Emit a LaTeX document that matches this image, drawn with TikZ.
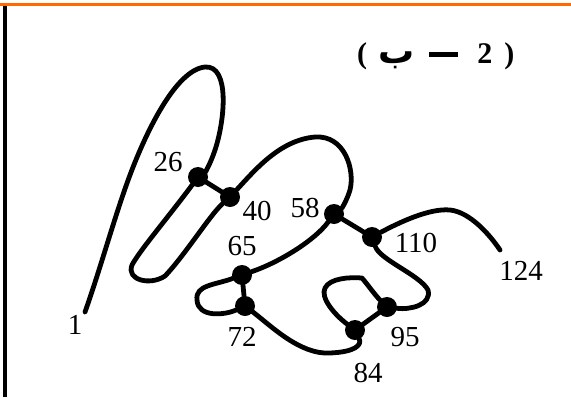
\documentclass[tikz,border=0pt]{standalone}
\usepackage{fontspec}
\setmainfont{Liberation Serif}
\newfontfamily\arabicfont[Script=Arabic]{DejaVu Sans}
\TeXXeTstate=1
\definecolor{rulebar}{HTML}{FF6A00}
\tikzset{
  knot dot/.style={
    circle, fill=black, minimum size=20pt, inner sep=0pt, outer sep=0pt
  },
  knot line/.style={
    draw=black, line width=4.8pt, line cap=round, line join=round
  },
  point label/.style={
    inner sep=0pt, text=black, font=\fontsize{29}{31}\selectfont
  },
  title label/.style={
    inner sep=0pt, text=black, font=\fontsize{30}{32}\selectfont\bfseries
  }
}

\begin{document}
\begin{tikzpicture}[x=1pt,y=-1pt]
  \useasboundingbox (0,0) rectangle (571,397);
  % page frame: orange rule on top, black rule on the left
  \draw[rulebar, line width=2.7pt] (0,4.7) -- (571,4.7);
  \draw[black, line width=4pt] (4.5,6) -- (4.5,397);

  \node[title label, anchor=base west] (title) at (357,63)
    {(\hspace{11pt}{\arabicfont\fontsize{36}{38}\selectfont\beginR ب\endR}\hspace{15pt}\rule[6pt]{29pt}{5pt}\hspace{19pt}2\hspace{12pt})};

  % dots on the curve
  \node[knot dot] (d26) at (198,177) {};
  \node[knot dot] (d40) at (230,197) {};
  \node[knot dot] (d58) at (334,214) {};
  \node[knot dot] (d110) at (372,237) {};
  \node[knot dot] (d65) at (242,275) {};
  \node[knot dot] (d72) at (245,306) {};
  \node[knot dot] (d84) at (355,330) {};
  \node[knot dot] (d95) at (387,307) {};
  \coordinate (s1) at (85,312);
  \coordinate (s124) at (500,250);

  % the curve, piece by piece
  \draw[knot line] (s1) .. controls (100,270) and (115,215) .. (130,175)
    .. controls (145,135) and (175,70) .. (205,67)
    .. controls (230,65) and (225,120) .. (215,150)
    .. controls (210,165) and (205,172) .. (d26);
  \draw[knot line] (d26) -- (d40);
  \draw[knot line] (d26) .. controls (170,215) and (140,250) .. (132,265)
    .. controls (126,280) and (150,286) .. (165,276)
    .. controls (185,255) and (210,215) .. (d40);
  \draw[knot line] (d40) .. controls (255,170) and (280,140) .. (315,137)
    .. controls (345,135) and (355,170) .. (350,190)
    .. controls (347,200) and (342,208) .. (d58);
  \draw[knot line] (d58) .. controls (315,240) and (280,262) .. (d65);
  \draw[knot line] (d65) .. controls (215,285) and (195,285) .. (197,300)
    .. controls (198,318) and (225,315) .. (d72);
  \draw[knot line] (d65) -- (d72);
  \draw[knot line] (d72) .. controls (270,325) and (300,355) .. (330,353)
    .. controls (355,352) and (362,345) .. (d84);
  \draw[knot line] (d84) .. controls (335,315) and (320,298) .. (325,288)
    .. controls (330,278) and (350,277) .. (362,278)
    .. controls (368,285) and (375,295) .. (d95);
  \draw[knot line] (d84) -- (d95);
  \draw[knot line] (d95) .. controls (410,310) and (432,305) .. (428,290)
    .. controls (420,275) and (380,260) .. (d110);
  \draw[knot line] (d58) -- (d110);
  \draw[knot line] (d110) .. controls (400,222) and (430,208) .. (450,210)
    .. controls (470,212) and (490,235) .. (s124);

  % numbers
  \node[point label] (l1) at (75,325) {1};
  \node[point label] (l26) at (168,162) {26};
  \node[point label] (l40) at (257,211) {40};
  \node[point label] (l58) at (305,208) {58};
  \node[point label] (l65) at (242,246) {65};
  \node[point label] (l110) at (416,243) {110};
  \node[point label] (l124) at (521,271) {124};
  \node[point label] (l72) at (242,337) {72};
  \node[point label] (l95) at (405,337) {95};
  \node[point label] (l84) at (368,373) {84};
\end{tikzpicture}
\end{document}
